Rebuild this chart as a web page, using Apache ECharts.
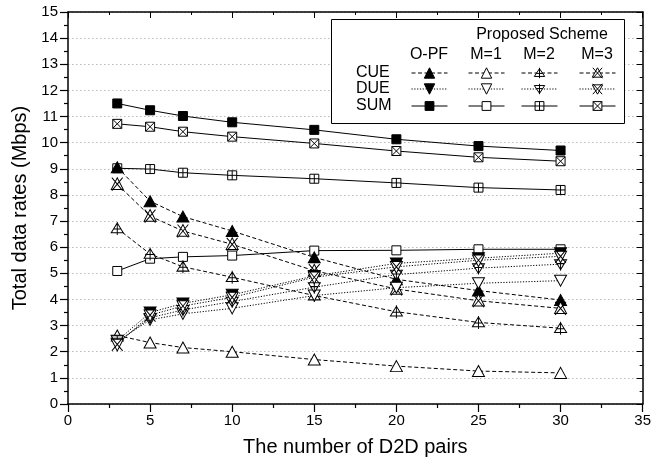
<!DOCTYPE html>
<html>
<head>
<meta charset="utf-8">
<script src="https://cdn.jsdelivr.net/npm/echarts@6/dist/echarts.min.js"></script>
<style>html,body{margin:0;padding:0;background:#fff}#c{width:654px;height:466px}</style>
</head>
<body>
<div id="c"></div>
<script>
const pairs = [3, 5, 7, 10, 15, 20, 25, 30];
const cueOPF = [9.06, 7.76, 7.17, 6.62, 5.61, 4.77, 4.34, 3.98];
const cueM1  = [2.62, 2.35, 2.16, 2.00, 1.70, 1.45, 1.26, 1.19];
const cueM2  = [6.72, 5.74, 5.25, 4.85, 4.15, 3.53, 3.12, 2.90];
const cueM3  = [8.41, 7.19, 6.62, 6.11, 5.10, 4.40, 3.95, 3.66];
const dueOPF = [2.42, 3.50, 3.85, 4.18, 4.90, 5.38, 5.58, 5.77];
const dueM1  = [2.40, 3.22, 3.45, 3.66, 4.15, 4.45, 4.62, 4.72];
const dueM2  = [2.35, 3.30, 3.60, 3.92, 4.47, 4.95, 5.20, 5.35];
const dueM3  = [2.28, 3.40, 3.75, 4.08, 4.85, 5.25, 5.50, 5.65];
const sumOPF = [11.50, 11.24, 11.02, 10.78, 10.49, 10.13, 9.87, 9.70];
const sumM1  = [5.09, 5.56, 5.63, 5.68, 5.87, 5.88, 5.92, 5.92];
const sumM2  = [9.02, 8.99, 8.85, 8.75, 8.62, 8.46, 8.28, 8.19];
const sumM3  = [10.72, 10.61, 10.42, 10.23, 9.97, 9.68, 9.44, 9.29];
const schemes = ['O-PF', 'M=1', 'M=2', 'M=3'];
const rows = ['CUE', 'DUE', 'SUM'];

const FONT = 'Liberation Sans, Arial, sans-serif';
const SYM = {
  triUp: 'path://M0,-10L10,8L-10,8Z',
  triUpPlus: 'path://M0,-10L10,8L-10,8Z M0,-12L0,12 M-6,1L6,1',
  triUpX: 'path://M0,-10L10,8L-10,8Z M-9,-10L9,10 M9,-10L-9,10',
  triDn: 'path://M0,10L10,-8L-10,-8Z',
  triDnPlus: 'path://M0,10L10,-8L-10,-8Z M0,12L0,-12 M-6,-1L6,-1',
  triDnX: 'path://M0,10L10,-8L-10,-8Z M-9,10L9,-10 M9,10L-9,-10',
  sq: 'path://M-10,-10L10,-10L10,10L-10,10Z',
  sqPlus: 'path://M-10,-10L10,-10L10,10L-10,10Z M0,-10L0,10 M-10,0L10,0',
  sqX: 'path://M-10,-10L10,-10L10,10L-10,10Z M-10,-10L10,10 M10,-10L-10,10'
};
const DASH = [4, 2.5];
const DOT = [1.2, 1.6];

function mk(name, vals, symbol, size, filled, dash) {
  return {
    name: name, type: 'line', data: pairs.map((x, i) => [x, vals[i]]),
    symbol: symbol, symbolSize: size, showSymbol: true,
    lineStyle: { color: '#000', width: 1, type: dash },
    itemStyle: filled ? { color: '#000', borderColor: '#000', borderWidth: 1 }
                      : { color: '#fff', borderColor: '#000', borderWidth: 1 },
    emphasis: { disabled: true }, animation: false, z: 3
  };
}
const series = [
  mk('SUM O-PF', sumOPF, SYM.sq, 9, true, 'solid'),
  mk('SUM M=1', sumM1, SYM.sq, 9, false, 'solid'),
  mk('SUM M=2', sumM2, SYM.sqPlus, 9, false, 'solid'),
  mk('SUM M=3', sumM3, SYM.sqX, 9, false, 'solid'),
  mk('CUE O-PF', cueOPF, SYM.triUp, [12, 11], true, DASH),
  mk('CUE M=1', cueM1, SYM.triUp, [12, 11], false, DASH),
  mk('CUE M=2', cueM2, SYM.triUpPlus, [12, 13], false, DASH),
  mk('CUE M=3', cueM3, SYM.triUpX, [12, 13], false, DASH),
  mk('DUE O-PF', dueOPF, SYM.triDn, [12, 11], true, DOT),
  mk('DUE M=1', dueM1, SYM.triDn, [12, 11], false, DOT),
  mk('DUE M=2', dueM2, SYM.triDnPlus, [12, 13], false, DOT),
  mk('DUE M=3', dueM3, SYM.triDnX, [12, 13], false, DOT)
];

const colX = [429, 486, 539, 597];
const rowY = [73, 89, 106];
const legends = [];
rows.forEach((r, ri) => {
  schemes.forEach((s, si) => {
    const ih = r === 'SUM' ? 11 : 13;
    const filled = s === 'O-PF';
    legends.push({
      data: [r + ' ' + s], left: colX[si] - 18, top: rowY[ri] - ih / 2,
      itemWidth: 36, itemHeight: ih, itemGap: 0, padding: 0, z: 20,
      lineStyle: { color: '#000', width: 1, type: r === 'SUM' ? 'solid' : (r === 'CUE' ? DASH : DOT) },
      itemStyle: { color: filled ? '#000' : '#fff', borderColor: '#000', borderWidth: 1 },
      formatter: () => '', textStyle: { color: 'rgba(0,0,0,0)', fontSize: 1 },
      selectedMode: false, inactiveColor: '#000'
    });
  });
});

const texts = [];
texts.push({ type: 'rect', shape: { x: 331.5, y: 19.5, width: 293, height: 104 }, style: { fill: '#fff', stroke: '#000', lineWidth: 1 }, z: 1 });
texts.push({ type: 'text', x: 542, y: 35, style: { text: 'Proposed Scheme', font: '16px ' + FONT, fill: '#000', textAlign: 'center', textVerticalAlign: 'middle' }, z: 6 });
schemes.forEach((s, i) => texts.push({ type: 'text', x: colX[i], y: 55, style: { text: s, font: '16px ' + FONT, fill: '#000', textAlign: 'center', textVerticalAlign: 'middle' }, z: 6 }));
rows.forEach((r, i) => texts.push({ type: 'text', x: 356, y: rowY[i], style: { text: r, font: '16px ' + FONT, fill: '#000', textAlign: 'left', textVerticalAlign: 'middle' }, z: 6 }));

const chart = echarts.init(document.getElementById('c'), null, { renderer: 'canvas' });
chart.setOption({
  animation: false,
  backgroundColor: '#fff',
  grid: { left: 68, right: 8, top: 12, bottom: 62, containLabel: false },
  xAxis: [{
    type: 'value', min: 0, max: 35, interval: 5,
    name: 'The number of D2D pairs', nameLocation: 'middle', nameGap: 33,
    nameTextStyle: { fontFamily: FONT, fontSize: 20, color: '#000' },
    axisLine: { show: true, onZero: false, lineStyle: { color: '#000', width: 1.5 } },
    axisTick: { show: true, inside: false, length: 8, lineStyle: { color: '#000', width: 1.2 } },
    minorTick: { show: true, splitNumber: 2, length: 4, lineStyle: { color: '#000', width: 1.2 } },
    axisLabel: { fontFamily: FONT, fontSize: 15, color: '#000', margin: 9 },
    splitLine: { show: false }
  }, {
    type: 'value', min: 0, max: 35, interval: 5, position: 'top',
    axisLine: { show: true, onZero: false, lineStyle: { color: '#000', width: 1.5 } },
    axisTick: { show: true, inside: true, length: 6, lineStyle: { color: '#000' } },
    minorTick: { show: true, splitNumber: 2, length: 3, lineStyle: { color: '#000' } },
    axisLabel: { show: false }, splitLine: { show: false }
  }],
  yAxis: [{
    type: 'value', min: 0, max: 15, interval: 1,
    name: 'Total data rates (Mbps)', nameLocation: 'middle', nameGap: 36,
    nameTextStyle: { fontFamily: FONT, fontSize: 20, color: '#000' },
    axisLine: { show: true, onZero: false, lineStyle: { color: '#000', width: 1.5 } },
    axisTick: { show: true, inside: false, length: 8, lineStyle: { color: '#000', width: 1.2 } },
    minorTick: { show: true, splitNumber: 2, length: 4, lineStyle: { color: '#000', width: 1.2 } },
    axisLabel: { fontFamily: FONT, fontSize: 15, color: '#000', margin: 10 },
    splitLine: { show: true, lineStyle: { color: '#bbb', width: 1, type: [1.5, 2.5] } }
  }, {
    type: 'value', min: 0, max: 15, interval: 1, position: 'right',
    axisLine: { show: true, onZero: false, lineStyle: { color: '#000', width: 1.5 } },
    axisTick: { show: true, inside: true, length: 6, lineStyle: { color: '#000' } },
    minorTick: { show: true, splitNumber: 2, length: 3, lineStyle: { color: '#000' } },
    axisLabel: { show: false }, splitLine: { show: false }
  }],
  legend: legends,
  graphic: texts,
  series: series
});
</script>
</body>
</html>
